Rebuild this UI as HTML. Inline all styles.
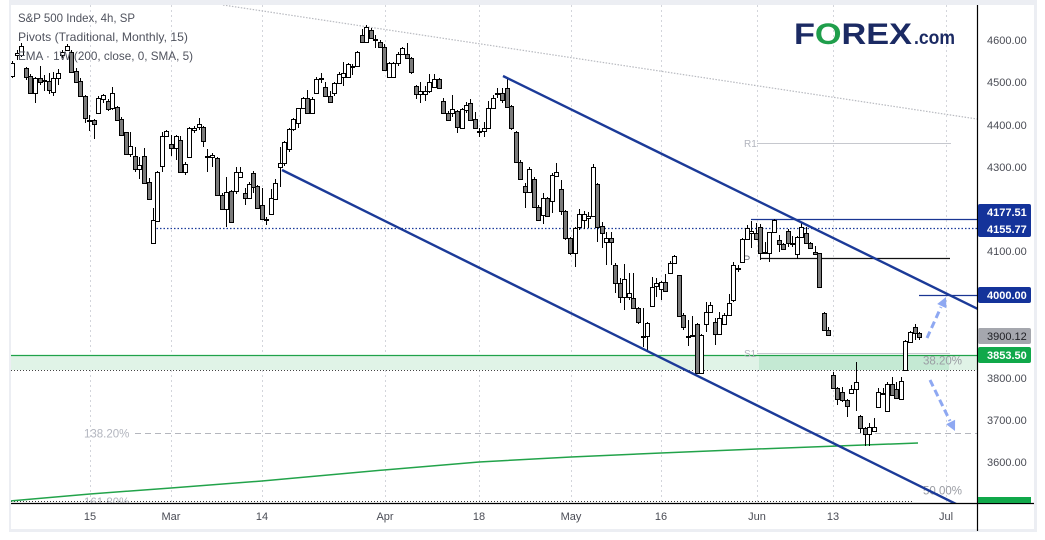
<!DOCTYPE html>
<html>
<head>
<meta charset="utf-8">
<style>
html,body{margin:0;padding:0;background:#ffffff;}
body{width:1045px;height:540px;overflow:hidden;}
svg{display:block;font-family:"Liberation Sans",Arial,sans-serif;}
</style>
</head>
<body>
<svg width="1045" height="540" viewBox="0 0 1045 540" xmlns="http://www.w3.org/2000/svg">
  <!-- frame -->
  <rect x="0" y="0" width="1045" height="540" fill="#ffffff"/>
  <rect x="9" y="0" width="1028" height="5" fill="#eceef3"/>
  <rect x="9" y="0" width="2" height="532" fill="#eceef3"/>
  <rect x="1034" y="0" width="3" height="532" fill="#eceef3"/>
  <rect x="9" y="529" width="1028" height="3" fill="#eceef3"/>

  <defs>
    <clipPath id="plot"><rect x="11" y="5" width="966" height="498"/></clipPath>
  </defs>

  <g clip-path="url(#plot)">
    <!-- vertical grid -->
    <g stroke="#d3d5db" stroke-width="1" stroke-dasharray="2 3">
      <path d="M90.5 5V503M171.5 5V503M262.5 5V503M385.5 5V503M479.5 5V503M571.5 5V503M661.5 5V503M757.5 5V503M833.5 5V503M946.5 5V503"/>
    </g>

    <!-- green fib zone -->
    <rect x="11" y="355" width="966" height="15" fill="#e0f3e7"/>
    <rect x="759" y="355" width="190" height="15" fill="#c4e9d3"/>
    <line x1="11" y1="355.5" x2="977" y2="355.5" stroke="#1fa24a" stroke-width="1.2"/>
    <line x1="11" y1="370.5" x2="977" y2="370.5" stroke="#444" stroke-width="1" stroke-dasharray="1 2"/>

    <!-- S1 / R1 pivot lines -->
    <line x1="757" y1="143.5" x2="951" y2="143.5" stroke="#c6c8ce" stroke-width="1"/>
    <line x1="757" y1="353.5" x2="950" y2="353.5" stroke="#c6c8ce" stroke-width="1"/>
    <text x="744" y="147" font-size="10" fill="#b2b5be">R1</text>
    <text x="744" y="357" font-size="10" fill="#b2b5be">S1</text>

    <!-- fib lines -->
    <line x1="135" y1="433.5" x2="977" y2="433.5" stroke="#b4b6bd" stroke-width="1" stroke-dasharray="6 4"/>
    <text x="84" y="437.5" font-size="11.5" fill="#b2b5be">138.20%</text>
    <line x1="11" y1="501.5" x2="913" y2="501.5" stroke="#333" stroke-width="1" stroke-dasharray="1 2"/>
    <text x="84" y="506" font-size="11.5" fill="#b2b5be">161.80%</text>
    <text x="923" y="364.5" font-size="11.5" fill="#9a9ca3">38.20%</text>
    <text x="923" y="494.5" font-size="11.5" fill="#9a9ca3">50.00%</text>

    <!-- gray dotted long-term trendline -->
    <line x1="223" y1="5" x2="977" y2="119" stroke="#b8bac0" stroke-width="1.2" stroke-dasharray="1.5 1.5"/>

    <!-- 4155.77 dotted -->
    <line x1="153" y1="228.5" x2="977" y2="228.5" stroke="#1a3a9a" stroke-width="1.2" stroke-dasharray="1.5 2"/>
    <!-- 4177.51 line -->
    <line x1="751" y1="219.5" x2="977" y2="219.5" stroke="#1a3593" stroke-width="1.2"/>
    <!-- pivot P -->
    <line x1="760" y1="258.5" x2="950" y2="258.5" stroke="#111" stroke-width="1.2"/>
    <text x="743" y="263" font-size="11" fill="#787b86">P</text>
    <!-- 4000 line -->
    <line x1="919" y1="295.5" x2="977" y2="295.5" stroke="#1a3593" stroke-width="1.2"/>

    <!-- 200 SMA -->
    <polyline fill="none" stroke="#22a34a" stroke-width="1.5" points="10,501 90,494 171,488 262,481 384,470 479,462 571,457 661,453 757,449 918,443"/>

    <!-- candle wicks -->
    <path fill="none" stroke="#000" stroke-width="1" d="M12.5 61V78M17.5 50V60M21.5 43V57M26.5 67V80M30.5 74V94M35.5 77V103M40.5 66V85M44.5 75V91M49.5 73V94M53.5 72V96M58.5 69V85M62.5 50V58M67.5 44V51M71.5 50V73M76.5 68V83M80.5 78V97M85.5 95V123M89.5 115V131M94.5 119V139M98.5 96V113M103.5 94V103M108.5 99V111M112.5 87V110M117.5 106V121M121.5 117V136M126.5 132V155M130.5 132V157M135.5 147V172M139.5 157V179M144.5 148V183M149.5 178V200M153.5 208V244M157.5 171V221M162.5 132V172M166.5 130V137M171.5 135V156M176.5 135V160M180.5 136V172M185.5 162V175M189.5 127V158M194.5 126V133M199.5 118V130M203.5 126V147M207.5 149V172M212.5 153V167M217.5 157V196M222.5 193V210M226.5 177V227M231.5 190V223M236.5 167V194M240.5 167V178M245.5 188V205M249.5 182V199M253.5 171V193M257.5 185V209M262.5 188V220M266.5 217V225M271.5 189V215M275.5 179V200M280.5 147V187M284.5 141V166M289.5 128V152M293.5 118V131M298.5 108V128M303.5 97V109M307.5 90V113M312.5 97V114M316.5 77V94M321.5 73V83M325.5 82V97M330.5 91V102M334.5 82V96M339.5 72V84M343.5 62V86M348.5 63V78M352.5 64V75M357.5 51V67M362.5 29V43M366.5 25V42M371.5 28V39M375.5 35V48M380.5 40V48M384.5 44V71M389.5 62V78M393.5 62V78M398.5 52V66M402.5 47V55M407.5 43V59M411.5 57V74M416.5 85V99M420.5 82V103M425.5 86V101M429.5 74V93M434.5 74V88M439.5 78V89M443.5 98V113M448.5 111V121M452.5 95V117M457.5 110V133M462.5 108V129M466.5 102V113M470.5 99V121M475.5 112V129M479.5 128V137M484.5 122V137M488.5 101V129M493.5 95V109M497.5 88V98M502.5 88V103M507.5 78V108M511.5 105V130M516.5 131V163M520.5 160V180M525.5 183V208M529.5 167V193M534.5 177V208M538.5 205V221M543.5 193V224M547.5 197V217M552.5 173V213M556.5 163V177M561.5 180V215M565.5 210V240M570.5 237V255M575.5 227V267M579.5 209V230M584.5 211V229M588.5 212V228M593.5 164V217M597.5 183V242M602.5 222V248M606.5 232V265M611.5 232V265M615.5 263V293M620.5 278V303M624.5 264V310M629.5 273V300M633.5 273V309M638.5 307V324M643.5 308V347M647.5 322V352M652.5 277V307M656.5 278V297M661.5 281V300M665.5 274V292M670.5 261V274M674.5 255V264M679.5 275V317M683.5 313V330M688.5 320V346M692.5 316V337M697.5 323V374M701.5 334V374M706.5 302V332M710.5 302V313M715.5 318V345M719.5 312V335M724.5 313V325M729.5 294V316M733.5 262V302M738.5 265V272M742.5 238V263M747.5 225V240M751.5 221V248M756.5 223V240M760.5 224V260M765.5 242V254M769.5 232V262M774.5 219V233M779.5 235V252M783.5 243V250M788.5 229V247M792.5 236V247M797.5 236V259M801.5 222V237M806.5 227V243M810.5 242V249M815.5 246V255M819.5 253V288M824.5 312V331M828.5 327V336M833.5 372V389M837.5 387V405M842.5 387V402M847.5 399V417M851.5 385V394M856.5 362V411M860.5 415V433M865.5 427V446M869.5 423V446M874.5 418V432M878.5 388V408M883.5 388V395M887.5 382V412M892.5 377V396M896.5 382V399M901.5 377V400M905.5 340V371M910.5 331V343M915.5 324V340M919.5 332V340"/>

    <!-- bullish (hollow) bodies -->
    <path fill="#ffffff" stroke="#000" stroke-width="1" d="M10.5 63.5h4v13h-4zM15.5 53.5h4v2h-4zM19.5 46.5h4v9h-4zM33.5 78.5h4v15h-4zM42.5 80.5h4v1h-4zM51.5 78.5h4v14h-4zM56.5 73.5h4v5h-4zM60.5 52.5h4v3h-4zM65.5 46.5h4v4h-4zM87.5 120.5h4v1h-4zM96.5 98.5h4v15h-4zM101.5 95.5h4v4h-4zM110.5 93.5h4v15h-4zM128.5 146.5h4v8h-4zM137.5 165.5h4v4h-4zM151.5 220.5h4v23h-4zM155.5 172.5h4v49h-4zM160.5 136.5h4v30h-4zM164.5 131.5h4v5h-4zM174.5 136.5h4v12h-4zM183.5 164.5h4v8h-4zM187.5 128.5h4v29h-4zM192.5 128.5h4v2h-4zM197.5 124.5h4v3h-4zM205.5 156.5h4v1h-4zM210.5 155.5h4v2h-4zM224.5 192.5h4v17h-4zM234.5 172.5h4v19h-4zM238.5 172.5h4v5h-4zM247.5 184.5h4v14h-4zM264.5 219.5h4v1h-4zM269.5 198.5h4v16h-4zM273.5 183.5h4v16h-4zM278.5 163.5h4v4h-4zM282.5 142.5h4v21h-4zM287.5 129.5h4v20h-4zM291.5 119.5h4v10h-4zM296.5 108.5h4v15h-4zM301.5 98.5h4v10h-4zM310.5 99.5h4v14h-4zM314.5 79.5h4v14h-4zM319.5 78.5h4v1h-4zM332.5 83.5h4v10h-4zM337.5 74.5h4v9h-4zM341.5 73.5h4v4h-4zM346.5 64.5h4v13h-4zM350.5 66.5h4v1h-4zM355.5 52.5h4v14h-4zM364.5 27.5h4v15h-4zM373.5 39.5h4v1h-4zM387.5 63.5h4v14h-4zM391.5 63.5h4v14h-4zM396.5 54.5h4v9h-4zM400.5 48.5h4v6h-4zM418.5 91.5h4v3h-4zM423.5 91.5h4v3h-4zM427.5 82.5h4v9h-4zM432.5 79.5h4v8h-4zM450.5 109.5h4v4h-4zM460.5 109.5h4v19h-4zM464.5 105.5h4v5h-4zM477.5 131.5h4v1h-4zM482.5 128.5h4v3h-4zM486.5 108.5h4v20h-4zM491.5 98.5h4v10h-4zM495.5 93.5h4v1h-4zM527.5 169.5h4v23h-4zM541.5 198.5h4v17h-4zM550.5 175.5h4v26h-4zM554.5 172.5h4v4h-4zM573.5 228.5h4v25h-4zM577.5 214.5h4v13h-4zM582.5 214.5h4v6h-4zM586.5 216.5h4v2h-4zM591.5 167.5h4v49h-4zM604.5 238.5h4v4h-4zM622.5 279.5h4v18h-4zM627.5 293.5h4v4h-4zM641.5 336.5h4v1h-4zM645.5 323.5h4v13h-4zM650.5 287.5h4v19h-4zM654.5 283.5h4v3h-4zM659.5 282.5h4v7h-4zM668.5 263.5h4v10h-4zM672.5 256.5h4v7h-4zM686.5 336.5h4v1h-4zM690.5 335.5h4v1h-4zM699.5 335.5h4v38h-4zM704.5 312.5h4v12h-4zM708.5 305.5h4v7h-4zM717.5 318.5h4v16h-4zM722.5 315.5h4v9h-4zM727.5 303.5h4v12h-4zM731.5 265.5h4v35h-4zM736.5 268.5h4v1h-4zM740.5 239.5h4v23h-4zM745.5 228.5h4v11h-4zM749.5 231.5h4v2h-4zM763.5 252.5h4v1h-4zM767.5 232.5h4v21h-4zM772.5 220.5h4v12h-4zM790.5 243.5h4v1h-4zM795.5 237.5h4v17h-4zM799.5 227.5h4v10h-4zM849.5 389.5h4v4h-4zM854.5 382.5h4v7h-4zM867.5 427.5h4v7h-4zM872.5 427.5h4v4h-4zM876.5 392.5h4v15h-4zM881.5 393.5h4v1h-4zM885.5 384.5h4v27h-4zM899.5 381.5h4v18h-4zM903.5 341.5h4v29h-4zM908.5 332.5h4v10h-4z"/>

    <!-- bearish (gray) bodies -->
    <path fill="#7b7b7b" stroke="#000" stroke-width="1" d="M24.5 68.5h4v9h-4zM28.5 76.5h4v17h-4zM38.5 78.5h4v4h-4zM47.5 81.5h4v9h-4zM69.5 52.5h4v20h-4zM74.5 71.5h4v11h-4zM78.5 81.5h4v15h-4zM83.5 96.5h4v22h-4zM92.5 120.5h4v4h-4zM106.5 101.5h4v8h-4zM115.5 107.5h4v13h-4zM119.5 119.5h4v16h-4zM124.5 132.5h4v22h-4zM133.5 156.5h4v13h-4zM142.5 156.5h4v27h-4zM147.5 182.5h4v17h-4zM169.5 144.5h4v4h-4zM178.5 140.5h4v32h-4zM201.5 127.5h4v14h-4zM215.5 158.5h4v37h-4zM220.5 195.5h4v14h-4zM229.5 191.5h4v31h-4zM243.5 193.5h4v5h-4zM251.5 173.5h4v14h-4zM255.5 186.5h4v22h-4zM260.5 205.5h4v14h-4zM305.5 98.5h4v15h-4zM323.5 87.5h4v9h-4zM328.5 96.5h4v6h-4zM360.5 35.5h4v7h-4zM369.5 30.5h4v8h-4zM378.5 42.5h4v5h-4zM382.5 47.5h4v23h-4zM405.5 54.5h4v4h-4zM409.5 58.5h4v14h-4zM414.5 86.5h4v8h-4zM437.5 79.5h4v9h-4zM441.5 101.5h4v12h-4zM446.5 113.5h4v7h-4zM455.5 111.5h4v16h-4zM468.5 103.5h4v17h-4zM473.5 119.5h4v9h-4zM500.5 93.5h4v7h-4zM505.5 88.5h4v19h-4zM509.5 106.5h4v22h-4zM514.5 132.5h4v30h-4zM518.5 162.5h4v17h-4zM523.5 186.5h4v6h-4zM532.5 179.5h4v28h-4zM536.5 207.5h4v13h-4zM545.5 198.5h4v18h-4zM559.5 189.5h4v22h-4zM563.5 211.5h4v27h-4zM568.5 238.5h4v15h-4zM595.5 184.5h4v43h-4zM600.5 226.5h4v7h-4zM609.5 238.5h4v4h-4zM613.5 265.5h4v18h-4zM618.5 283.5h4v14h-4zM631.5 298.5h4v10h-4zM636.5 308.5h4v14h-4zM663.5 282.5h4v9h-4zM677.5 275.5h4v41h-4zM681.5 315.5h4v12h-4zM695.5 324.5h4v49h-4zM713.5 322.5h4v12h-4zM754.5 233.5h4v6h-4zM758.5 227.5h4v26h-4zM777.5 240.5h4v4h-4zM781.5 244.5h4v5h-4zM786.5 231.5h4v12h-4zM804.5 233.5h4v10h-4zM808.5 243.5h4v5h-4zM813.5 252.5h4v2h-4zM817.5 253.5h4v34h-4zM822.5 313.5h4v17h-4zM826.5 330.5h4v5h-4zM831.5 375.5h4v13h-4zM835.5 388.5h4v11h-4zM840.5 392.5h4v8h-4zM845.5 400.5h4v6h-4zM858.5 416.5h4v12h-4zM863.5 428.5h4v6h-4zM890.5 384.5h4v11h-4zM894.5 389.5h4v9h-4zM913.5 327.5h4v6h-4zM917.5 333.5h4v4h-4z"/>

    <!-- channel lines -->
    <line x1="282" y1="170" x2="956" y2="504" stroke="#1b3a98" stroke-width="2.4"/>
    <line x1="503" y1="76" x2="980" y2="310" stroke="#1b3a98" stroke-width="2.4"/>

    <!-- dashed projection arrows -->
    <g stroke="#8ea8f2" stroke-width="3" stroke-dasharray="7 4" fill="none">
      <line x1="927" y1="338" x2="941" y2="307"/>
      <line x1="930" y1="380" x2="950" y2="421"/>
    </g>
    <polygon points="946,297 946.4,308.2 937.2,304" fill="#8ea8f2"/>
    <polygon points="955,431 955.1,419.8 946.1,424.2" fill="#8ea8f2"/>
  </g>

  <!-- legend -->
  <g font-size="12" fill="#50535e">
    <text x="18" y="22" textLength="117" lengthAdjust="spacingAndGlyphs">S&amp;P 500 Index, 4h, SP</text>
    <text x="18" y="41" textLength="170" lengthAdjust="spacingAndGlyphs">Pivots (Traditional, Monthly, 15)</text>
    <text x="18" y="60" textLength="175" lengthAdjust="spacingAndGlyphs">EMA · 1W (200, close, 0, SMA, 5)</text>
  </g>

  <!-- logo -->
  <text x="794" y="44" font-size="30" font-weight="bold" fill="#1b2a63" textLength="118" lengthAdjust="spacingAndGlyphs">F<tspan fill="#1f9e4b">O</tspan>REX</text>
  <text x="914" y="44" font-size="19" font-weight="bold" fill="#1b2a63" textLength="41" lengthAdjust="spacingAndGlyphs">.com</text>

  <!-- axes -->
  <line x1="977.5" y1="5" x2="977.5" y2="531" stroke="#000" stroke-width="1.2"/>
  <line x1="11" y1="503.5" x2="1034" y2="503.5" stroke="#000" stroke-width="1.2"/>

  <!-- price axis labels -->
  <g font-size="11" fill="#4a4c55">
    <text x="987" y="44">4600.00</text>
    <text x="987" y="86">4500.00</text>
    <text x="987" y="129">4400.00</text>
    <text x="987" y="171">4300.00</text>
    <text x="987" y="255">4100.00</text>
    <text x="987" y="382">3800.00</text>
    <text x="987" y="424">3700.00</text>
    <text x="987" y="466">3600.00</text>
  </g>

  <!-- price tags -->
  <rect x="978" y="204" width="53" height="33" rx="2" fill="#14339a"/>
  <rect x="978" y="287" width="53" height="16" rx="2" fill="#14339a"/>
  <rect x="978" y="328" width="53" height="16" rx="2" fill="#a5a7ae"/>
  <rect x="978" y="347" width="53" height="16" rx="2" fill="#10a84a"/>
  <rect x="978" y="497" width="53" height="6" fill="#10a84a"/>
  <g font-size="11" font-weight="bold" fill="#ffffff">
    <text x="987" y="216">4177.51</text>
    <text x="987" y="233">4155.77</text>
    <text x="987" y="299">4000.00</text>
    <text x="987" y="359">3853.50</text>
  </g>
  <text x="987" y="340" font-size="11" fill="#1e1f24">3900.12</text>

  <!-- time axis labels -->
  <g font-size="11" fill="#4a4c55" text-anchor="middle">
    <text x="90" y="520">15</text>
    <text x="171" y="520">Mar</text>
    <text x="262" y="520">14</text>
    <text x="385" y="520">Apr</text>
    <text x="479" y="520">18</text>
    <text x="571" y="520">May</text>
    <text x="661" y="520">16</text>
    <text x="757" y="520">Jun</text>
    <text x="833" y="520">13</text>
    <text x="946" y="520">Jul</text>
  </g>
</svg>
</body>
</html>
